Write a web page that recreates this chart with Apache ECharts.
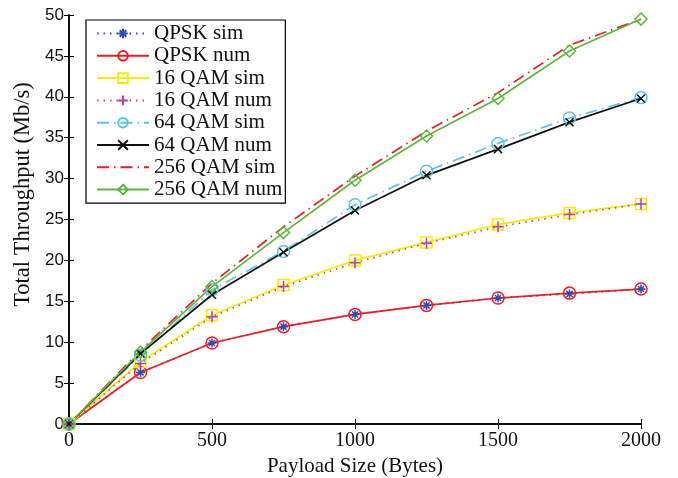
<!DOCTYPE html>
<html><head><meta charset="utf-8">
<script src="https://cdn.jsdelivr.net/npm/echarts@6/dist/echarts.min.js"></script>
<style>html,body{margin:0;padding:0;background:#fff}#c{width:678px;height:478px}</style>
</head><body><div id="c"></div>
<script>
const payload = [0, 250, 500, 750, 1000, 1250, 1500, 1750, 2000];
const qpskSim   = [0, 6.3, 9.9, 11.9, 13.4, 14.5, 15.4, 15.9, 16.5];
const qpskNum   = [0, 6.3, 9.9, 11.9, 13.4, 14.5, 15.4, 16.0, 16.5];
const qam16Sim  = [0, 7.6, 13.3, 17.0, 20.0, 22.2, 24.4, 25.8, 26.9];
const qam16Num  = [0, 7.4, 13.1, 16.8, 19.7, 22.1, 24.1, 25.6, 26.9];
const qam64Sim  = [0, 8.4, 16.4, 21.1, 26.8, 30.9, 34.3, 37.4, 39.9];
const qam64Num  = [0, 8.6, 15.8, 21.0, 26.1, 30.4, 33.6, 36.9, 39.8];
const qam256Sim = [0, 9.0, 17.2, 24.1, 30.3, 35.8, 40.5, 46.3, 49.5];
const qam256Num = [0, 8.8, 16.8, 23.4, 29.8, 35.2, 39.8, 45.6, 49.5];
const seriesNames = ['QPSK sim','QPSK num','16 QAM sim','16 QAM num','64 QAM sim','64 QAM num','256 QAM sim','256 QAM num'];
const xTicks = {min: 0, max: 2000, interval: 500};
const yTicks = {min: 0, max: 50, interval: 5};

const SERIF = 'Liberation Serif';
const SANS = 'Liberation Sans';
const ASTER = 'path://M5,0L5,10M0,5L10,5M1.6,1.6L8.4,8.4M8.4,1.6L1.6,8.4';
const PLUS = 'path://M5,0L5,10M0,5L10,5';
const CROSS = 'path://M0,0L10,10M10,0L0,10';
const DIAM = 'path://M5,0L10,5L5,10L0,5Z';

function mk(name, data, color, lineType, symbol, size, show) {
  return {
    name, type: 'line', data: payload.map((x, i) => [x, data[i]]),
    symbol, symbolSize: size, showSymbol: show,
    lineStyle: {color, width: 1.7, type: lineType},
    itemStyle: {color: 'rgba(0,0,0,0)', borderColor: color, borderWidth: 1.5},
    emphasis: {disabled: true}, animation: false
  };
}
const series = [
  mk(seriesNames[0], qpskSim, '#2a4bb8', [1.5, 5], ASTER, 9, true),
  mk(seriesNames[1], qpskNum, '#f01c24', 'solid', 'circle', 12, true),
  mk(seriesNames[2], qam16Sim, '#f4ee00', 'solid', 'rect', 11, true),
  mk(seriesNames[3], qam16Num, '#c03c9c', [1.5, 5], PLUS, 11, true),
  mk(seriesNames[4], qam64Sim, '#5cc4e0', [12, 5, 1.5, 5], 'circle', 12, true),
  mk(seriesNames[5], qam64Num, '#111111', 'solid', CROSS, 8, true),
  mk(seriesNames[6], qam256Sim, '#f01c24', [12, 5, 1.5, 5], 'circle', 2, false),
  mk(seriesNames[7], qam256Num, '#5cb83c', 'solid', DIAM, 12, true)
];
const legendData = seriesNames.map((n, i) => i === 6
  ? {name: n, itemStyle: {color: 'rgba(0,0,0,0)', borderColor: 'rgba(0,0,0,0)', borderWidth: 0}}
  : {name: n});
const axisLine = {show: true, lineStyle: {color: '#000', width: 1.5}};
const tick = {show: true, inside: true, length: 5, lineStyle: {color: '#000', width: 1}};
const chart = echarts.init(document.getElementById('c'), null, {renderer: 'canvas'});
chart.setOption({
  animation: false,
  backgroundColor: '#fff',
  grid: {left: 69, right: 37, top: 15, bottom: 54, containLabel: false, outerBoundsMode: 'none'},
  legend: {
    data: legendData, orient: 'vertical', left: 86, top: 20,
    backgroundColor: '#fff', borderColor: '#000', borderWidth: 1.2, borderRadius: 0,
    padding: [3, 3, 3, 10], itemWidth: 52, itemHeight: 12, itemGap: 1.3,
    textStyle: {fontFamily: SERIF, fontSize: 21, lineHeight: 20, color: '#111'},
    selectedMode: false
  },
  xAxis: [{
    type: 'value', ...xTicks, position: 'bottom',
    name: 'Payload Size (Bytes)', nameLocation: 'middle', nameGap: 31,
    nameTextStyle: {fontFamily: SERIF, fontSize: 21, color: '#111'},
    axisLine, axisTick: tick, splitLine: {show: false},
    axisLabel: {fontFamily: SERIF, fontSize: 20, color: '#111', margin: 7,
      formatter: v => String(v)}
  }, {
    type: 'value', ...xTicks, position: 'top',
    axisLine, axisTick: tick, splitLine: {show: false}, axisLabel: {show: false}
  }],
  yAxis: [{
    type: 'value', ...yTicks, position: 'left',
    name: 'Total Throughput (Mb/s)', nameLocation: 'middle', nameGap: 34,
    nameTextStyle: {fontFamily: SERIF, fontSize: 22.5, color: '#111', padding: [0, 0, 0, 50]},
    axisLine, axisTick: tick, splitLine: {show: false},
    axisLabel: {fontFamily: SANS, fontSize: 17, color: '#111', margin: 5,
      formatter: v => String(v)}
  }, {
    type: 'value', ...yTicks, position: 'right',
    axisLine, axisTick: tick, splitLine: {show: false}, axisLabel: {show: false}
  }],
  series
});
</script></body></html>
